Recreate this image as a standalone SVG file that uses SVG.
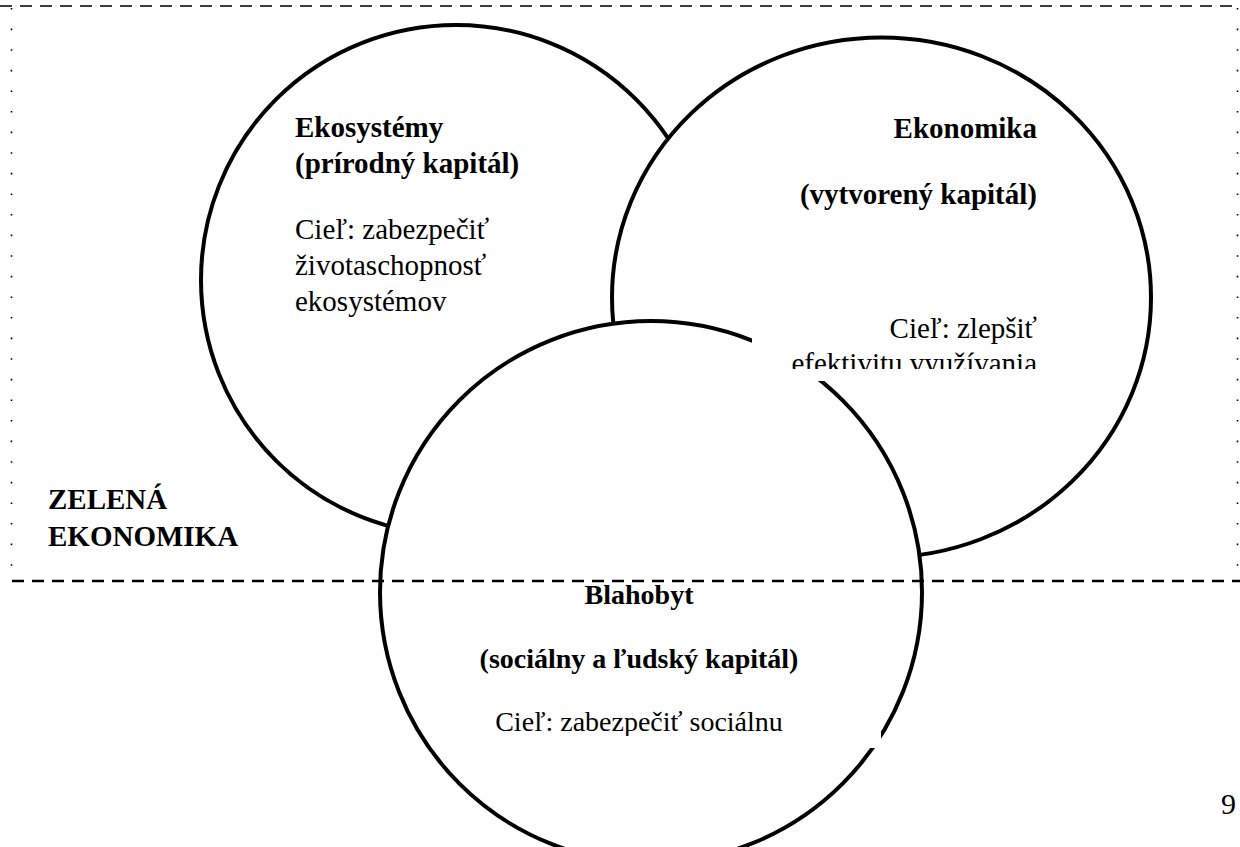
<svg xmlns="http://www.w3.org/2000/svg" width="1240" height="847" viewBox="0 0 1240 847">
  <style>
    .ring { fill: #ffffff; stroke: #000000; stroke-width: 4; }
    .mask { fill: #ffffff; stroke: none; }
    .t { font-family: "Liberation Serif", "Times New Roman", serif; font-size: 29px; fill: #000000; }
    .s28 { font-size: 28px; }
    .b { font-weight: bold; }
    .frameH { fill: none; stroke: #000000; stroke-width: 1.3; stroke-dasharray: 12 8; }
    .frameV { fill: none; stroke: #000000; stroke-width: 1.6; stroke-dasharray: 1.6 19; }
    .divider { fill: none; stroke: #000000; stroke-width: 2.5; stroke-dasharray: 12 8; }
  </style>
  <defs>
    <clipPath id="clipEkoGoal"><rect x="700" y="290" width="400" height="79"/></clipPath>
    <clipPath id="clipBlahoGoal"><rect x="440" y="690" width="440" height="46"/></clipPath>
  </defs>
  <rect width="1240" height="847" fill="#ffffff"/>

  <g id="frame">
    <line class="frameH" x1="0" y1="6" x2="1240" y2="6"/>
    <line class="frameV" x1="11.5" y1="8" x2="11.5" y2="580"/>
    <line class="frameV" x1="1237.5" y1="8" x2="1237.5" y2="580"/>
  </g>

  <g id="node-ekosystemy">
    <circle class="ring" cx="456" cy="280" r="255"/>
    <text class="t b" x="295" y="137">Ekosystémy</text>
    <text class="t b" x="295" y="173">(prírodný kapitál)</text>
    <text class="t" x="295" y="239">Cieľ: zabezpečiť</text>
    <text class="t" x="295" y="275">životaschopnosť</text>
    <text class="t" x="295" y="311">ekosystémov</text>
  </g>

  <g id="node-ekonomika">
    <ellipse class="ring" cx="881.5" cy="297.5" rx="269.5" ry="260"/>
    <text class="t b" x="1037" y="138" text-anchor="end">Ekonomika</text>
    <text class="t b" x="1037" y="204" text-anchor="end">(vytvorený kapitál)</text>
  </g>

  <g id="node-blahobyt">
    <circle class="ring" cx="651" cy="592" r="271"/>
    <rect class="mask" x="440" y="590" width="441" height="158"/>
    <text class="t s28 b" x="639" y="604" text-anchor="middle">Blahobyt</text>
    <text class="t s28 b" x="639" y="668" text-anchor="middle">(sociálny a ľudský kapitál)</text>
    <g clip-path="url(#clipBlahoGoal)">
      <text class="t s28" x="639" y="731" text-anchor="middle">Cieľ: zabezpečiť sociálnu</text>
    </g>
  </g>

  <g id="node-ekonomika-goal">
    <rect class="mask" x="752" y="300" width="300" height="81"/>
    <text class="t" x="1037" y="338" text-anchor="end">Cieľ: zlepšiť</text>
    <g clip-path="url(#clipEkoGoal)">
      <text class="t" x="1037" y="373" text-anchor="end">efektivitu využívania</text>
    </g>
  </g>

  <g id="connectors">
    <line class="divider" x1="12" y1="581" x2="1240" y2="581"/>
  </g>

  <g id="label-zelena-ekonomika">
    <text class="t b" x="48" y="509">ZELENÁ</text>
    <text class="t b" x="48" y="546">EKONOMIKA</text>
  </g>

  <g id="page-number">
    <text class="t" x="1221" y="814" style="font-size:30px">9</text>
  </g>
</svg>
